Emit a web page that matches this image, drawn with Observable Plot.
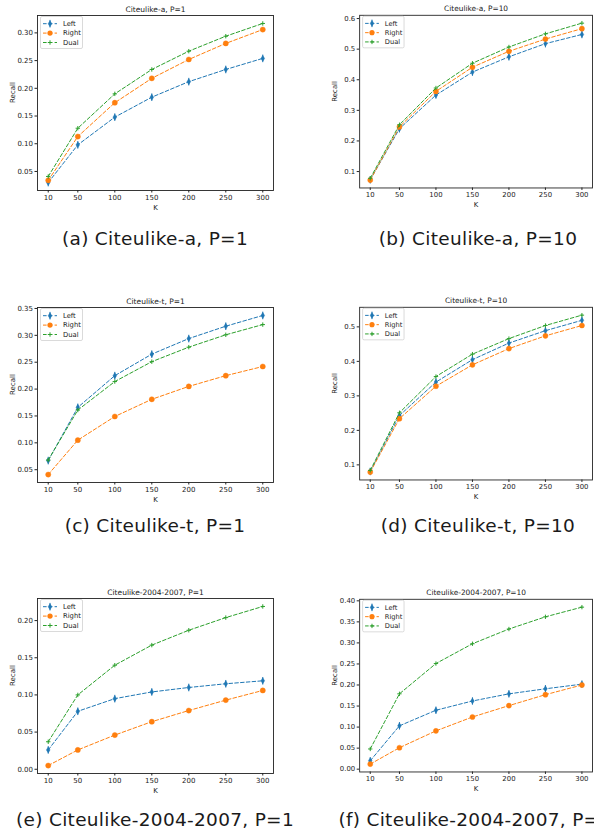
<!DOCTYPE html>
<html>
<head>
<meta charset="utf-8">
<script src="https://cdn.jsdelivr.net/npm/d3@7"></script>
<script src="https://cdn.jsdelivr.net/npm/@observablehq/plot@0.6"></script>
<style>
  html, body { margin: 0; padding: 0; background: #fff; }
  #root { position: relative; width: 594px; height: 836px; overflow: hidden; background: #fff; }
  .panel { position: absolute; }
  .caption { position: absolute; font-family: "DejaVu Sans", sans-serif; font-size: 18.5px; font-weight: 400; letter-spacing: 0.3px; color: #1a1a1a; white-space: nowrap; line-height: 1; }
</style>
</head>
<body>
<div id="root"></div>
<script>
// ---- data ----
const K = [10, 50, 100, 150, 200, 250, 300];
const seriesNames = ["Left", "Right", "Dual"];

const aLeft  = [0.030, 0.098, 0.148, 0.184, 0.212, 0.234, 0.254];
const aRight = [0.034, 0.113, 0.174, 0.218, 0.252, 0.281, 0.306];
const aDual  = [0.041, 0.128, 0.190, 0.234, 0.267, 0.294, 0.317];

const bLeft  = [0.073, 0.240, 0.350, 0.425, 0.475, 0.518, 0.548];
const bRight = [0.072, 0.246, 0.362, 0.441, 0.493, 0.533, 0.567];
const bDual  = [0.078, 0.253, 0.373, 0.454, 0.507, 0.550, 0.585];

const cLeft  = [0.067, 0.166, 0.225, 0.265, 0.294, 0.317, 0.337];
const cRight = [0.041, 0.105, 0.149, 0.181, 0.205, 0.225, 0.242];
const cDual  = [0.068, 0.161, 0.214, 0.251, 0.278, 0.301, 0.320];

const dLeft  = [0.081, 0.243, 0.340, 0.405, 0.453, 0.489, 0.519];
const dRight = [0.079, 0.234, 0.328, 0.390, 0.437, 0.474, 0.504];
const dDual  = [0.084, 0.251, 0.356, 0.421, 0.466, 0.504, 0.534];

const eLeft  = [0.026, 0.078, 0.095, 0.104, 0.110, 0.115, 0.119];
const eRight = [0.005, 0.026, 0.046, 0.064, 0.079, 0.093, 0.106];
const eDual  = [0.037, 0.100, 0.140, 0.167, 0.187, 0.204, 0.219];

const fLeft  = [0.020, 0.103, 0.140, 0.162, 0.179, 0.191, 0.202];
const fRight = [0.012, 0.051, 0.091, 0.124, 0.151, 0.177, 0.200];
const fDual  = [0.048, 0.179, 0.251, 0.298, 0.333, 0.362, 0.385];

const titles = ["Citeulike-a, P=1", "Citeulike-a, P=10", "Citeulike-t, P=1", "Citeulike-t, P=10", "Citeulike-2004-2007, P=1", "Citeulike-2004-2007, P=10"];
const captions = ["(a) Citeulike-a, P=1", "(b) Citeulike-a, P=10", "(c) Citeulike-t, P=1", "(d) Citeulike-t, P=10", "(e) Citeulike-2004-2007, P=1", "(f) Citeulike-2004-2007, P=10"];

const aTicks = [0.05, 0.10, 0.15, 0.20, 0.25, 0.30];
const bTicks = [0.1, 0.2, 0.3, 0.4, 0.5, 0.6];
const cTicks = [0.05, 0.10, 0.15, 0.20, 0.25, 0.30, 0.35];
const dTicks = [0.1, 0.2, 0.3, 0.4, 0.5];
const eTicks = [0.00, 0.05, 0.10, 0.15, 0.20];
const fTicks = [0.00, 0.05, 0.10, 0.15, 0.20, 0.25, 0.30, 0.35, 0.40];

// ---- styles ----
const colors = {Left: "#1f77b4", Right: "#ff7f0e", Dual: "#2ca02c"};
const FONT = "DejaVu Sans";
const DASH = "3.6,2.2";

const thinDiamond = { draw(ctx, size) { const r = Math.sqrt(size / Math.PI); const w = r * 0.6; ctx.moveTo(0, -r); ctx.lineTo(w, 0); ctx.lineTo(0, r); ctx.lineTo(-w, 0); ctx.closePath(); } };
const vBar = { draw(ctx, size) { const r = Math.sqrt(size / Math.PI); ctx.moveTo(0, -r); ctx.lineTo(0, r); } };
const plus = { draw(ctx, size) { const r = Math.sqrt(size / Math.PI); ctx.moveTo(-r, 0); ctx.lineTo(r, 0); ctx.moveTo(0, -r); ctx.lineTo(0, r); } };

const panels = [
  {L: aLeft, R: aRight, D: aDual, ticks: aTicks, fmt: ".2f", left: 0,   top: 0,   ml: 37, w: 297},
  {L: bLeft, R: bRight, D: bDual, ticks: bTicks, fmt: ".1f", left: 297, top: 0,   ml: 63, w: 301},
  {L: cLeft, R: cRight, D: cDual, ticks: cTicks, fmt: ".2f", left: 0,   top: 292, ml: 37, w: 297},
  {L: dLeft, R: dRight, D: dDual, ticks: dTicks, fmt: ".1f", left: 297, top: 292, ml: 63, w: 301},
  {L: eLeft, R: eRight, D: eDual, ticks: eTicks, fmt: ".2f", left: 0,   top: 583, ml: 37, w: 297},
  {L: fLeft, R: fRight, D: fDual, ticks: fTicks, fmt: ".2f", left: 297, top: 584, ml: 63, w: 301}
];
const captionPos = [
  {x: 155, y: 230}, {x: 478, y: 230},
  {x: 155, y: 517}, {x: 478, y: 517},
  {x: 155, y: 811}, {x: 481, y: 811}
];

const root = document.getElementById("root");

panels.forEach((p, i) => {
  const rows = [];
  K.forEach((k, j) => {
    rows.push({k, v: p.L[j], s: "Left"});
    rows.push({k, v: p.R[j], s: "Right"});
    rows.push({k, v: p.D[j], s: "Dual"});
  });
  const all = rows.map(d => d.v);
  const lo = d3.min(all), hi = d3.max(all), pad = (hi - lo) * 0.05;
  const kpad = (d3.max(K) - d3.min(K)) * 0.05;

  const marks = [];
  seriesNames.forEach(s => {
    const data = rows.filter(d => d.s === s);
    marks.push(Plot.line(data, {x: "k", y: "v", stroke: colors[s], strokeWidth: 1, strokeDasharray: DASH}));
    if (s === "Left") {
      marks.push(Plot.dot(data, {x: "k", y: "v", symbol: vBar, r: 3.8, stroke: colors[s], strokeWidth: 1}));
      marks.push(Plot.dot(data, {x: "k", y: "v", symbol: thinDiamond, r: 3, fill: colors[s], stroke: colors[s], strokeWidth: 0.5}));
    } else if (s === "Right") {
      marks.push(Plot.dot(data, {x: "k", y: "v", symbol: "circle", r: 2.6, fill: colors[s], stroke: colors[s], strokeWidth: 0.4}));
    } else {
      marks.push(Plot.dot(data, {x: "k", y: "v", symbol: plus, r: 2.2, stroke: colors[s], strokeWidth: 1}));
    }
  });

  const svg = Plot.plot({
    width: p.w,
    height: 215,
    marginLeft: p.ml,
    marginRight: p.w - p.ml - 236,
    marginTop: 15,
    marginBottom: 25,
    style: {fontFamily: FONT, fontSize: "7px", background: "transparent", color: "#222", overflow: "visible"},
    x: {domain: [d3.min(K) - kpad, d3.max(K) + kpad]},
    y: {domain: [lo - pad, hi + pad]},
    marks: [
      Plot.axisX({ticks: K, tickFormat: d => String(d), tickSize: 2.5, tickPadding: 2, label: null, fontSize: 7}),
      Plot.axisY({ticks: p.ticks, tickFormat: d3.format(p.fmt), tickSize: 2.5, tickPadding: 2, label: null, fontSize: 7}),
      ...marks,
      Plot.frame({stroke: "#222", strokeWidth: 0.9}),
      Plot.text([titles[i]], {frameAnchor: "top", dy: -4, lineAnchor: "bottom", fontSize: 7.5, fill: "#222"}),
      Plot.text(["K"], {frameAnchor: "bottom", dy: 17, lineAnchor: "middle", fontSize: 7, fill: "#222"}),
      Plot.text(["Recall"], {frameAnchor: "left", dx: -25, rotate: -90, lineAnchor: "middle", fontSize: 7, fill: "#222"})
    ]
  });

  // legend (upper left inside frame)
  const g = d3.select(svg).append("g").attr("transform", `translate(${p.ml + 3.5},${15 + 1.5})`);
  g.append("rect").attr("x", 0).attr("y", 0).attr("width", 42).attr("height", 32).attr("rx", 1.5)
    .attr("fill", "#fff").attr("fill-opacity", 0.85).attr("stroke", "#d0d0d0").attr("stroke-width", 0.8);
  const sym = (type, r) => d3.symbol(type, r * r * Math.PI)();
  seriesNames.forEach((s, j) => {
    const yy = 7.2 + j * 9.4;
    const row = g.append("g").attr("transform", `translate(0,${yy})`);
    row.append("line").attr("x1", 2.5).attr("x2", 16.5).attr("y1", 0).attr("y2", 0)
      .attr("stroke", colors[s]).attr("stroke-width", 1).attr("stroke-dasharray", DASH);
    const m = row.append("g").attr("transform", "translate(9.5,0)");
    if (s === "Left") {
      m.append("path").attr("d", sym(vBar, 3.8)).attr("stroke", colors[s]).attr("stroke-width", 1).attr("fill", "none");
      m.append("path").attr("d", sym(thinDiamond, 3)).attr("fill", colors[s]).attr("stroke", colors[s]).attr("stroke-width", 0.5);
    } else if (s === "Right") {
      m.append("circle").attr("r", 2.6).attr("fill", colors[s]);
    } else {
      m.append("path").attr("d", sym(plus, 2.2)).attr("stroke", colors[s]).attr("stroke-width", 1).attr("fill", "none");
    }
    row.append("text").attr("x", 22.5).attr("y", 0).attr("dy", "0.35em").attr("text-anchor", "start")
      .attr("font-size", 6.8).attr("fill", "#222").text(s);
  });

  const div = document.createElement("div");
  div.className = "panel";
  div.style.left = p.left + "px";
  div.style.top = p.top + "px";
  div.appendChild(svg);
  root.appendChild(div);

  const cp = captionPos[i];
  const c = document.createElement("div");
  c.className = "caption";
  c.textContent = captions[i];
  c.style.top = cp.y + "px";
  c.style.left = cp.x + "px";
  c.style.transform = "translateX(-50%)";
  root.appendChild(c);
});
</script>
</body>
</html>
